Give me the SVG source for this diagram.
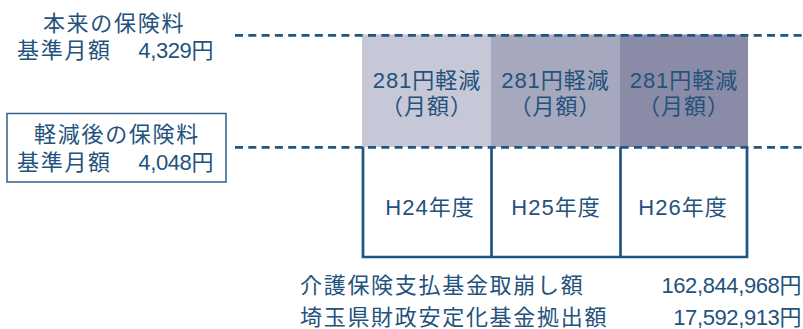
<svg xmlns="http://www.w3.org/2000/svg" width="803" height="329" viewBox="0 0 803 329">
  <style>
    text { font-family: "Liberation Sans", "Noto Sans CJK JP", sans-serif; font-size: 22px; fill: #23527c; }
    .jp { letter-spacing: 1.7px; }
    .lbl { letter-spacing: 1px; text-anchor: middle; }
    .num { text-anchor: end; letter-spacing: -0.4px; }
    .dash { stroke: #1f5582; stroke-width: 2.7; stroke-dasharray: 8 5.3; fill: none; }
    .box { stroke: #1f5582; stroke-width: 2.7; fill: none; }
  </style>
  <rect width="803" height="329" fill="#ffffff"/>

  <g id="reduction-h24">
    <rect x="362" y="34.5" width="129" height="112.5" fill="#c7c8d7"/>
    <text class="lbl" x="427" y="88">281円軽減</text>
    <text class="lbl" x="427" y="114">（月額）</text>
  </g>
  <g id="reduction-h25">
    <rect x="491" y="34.5" width="129" height="112.5" fill="#a6a8bd"/>
    <text class="lbl" x="555.5" y="88">281円軽減</text>
    <text class="lbl" x="555.5" y="114">（月額）</text>
  </g>
  <g id="reduction-h26">
    <rect x="620" y="34.5" width="128" height="112.5" fill="#898ba7"/>
    <text class="lbl" x="684" y="88">281円軽減</text>
    <text class="lbl" x="684" y="114">（月額）</text>
  </g>

  <g id="connectors">
    <line class="dash" x1="235" y1="35.3" x2="803" y2="35.3"/>
    <line class="dash" x1="235" y1="147.3" x2="803" y2="147.3"/>
  </g>

  <g id="original-premium">
    <text class="jp" x="114" y="31" text-anchor="middle">本来の保険料</text>
    <text class="jp" x="17" y="58">基準月額</text>
    <text class="num" x="213" y="58">4,329円</text>
  </g>

  <g id="reduced-premium">
    <rect x="7" y="113.5" width="219" height="68.5" fill="none" stroke="#2f5f8a" stroke-width="1.5"/>
    <text class="jp" x="117" y="142" text-anchor="middle">軽減後の保険料</text>
    <text class="jp" x="17" y="170">基準月額</text>
    <text class="num" x="213" y="170">4,048円</text>
  </g>

  <g id="year-boxes">
    <path class="box" d="M363 147 V257 H747 V147 M491.5 147 V257 M620.5 147 V257"/>
    <text class="lbl" x="430" y="215">H24年度</text>
    <text class="lbl" x="556" y="215">H25年度</text>
    <text class="lbl" x="683" y="215">H26年度</text>
  </g>

  <g id="funding">
    <text class="jp" x="300" y="293">介護保険支払基金取崩し額</text>
    <text class="num" x="801" y="293">162,844,968円</text>
    <text class="jp" x="300" y="324.5">埼玉県財政安定化基金拠出額</text>
    <text class="num" x="801" y="324.5">17,592,913円</text>
  </g>
</svg>
